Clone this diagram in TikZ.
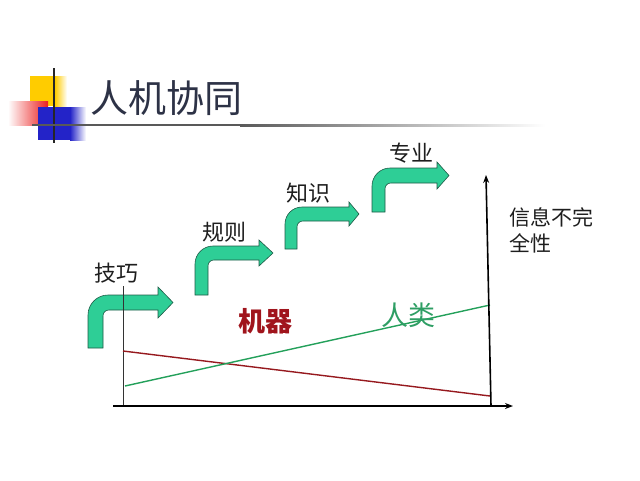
\documentclass[tikz,border=0pt]{standalone}
\usepackage{fontspec}
\newfontfamily\cjk{Noto Sans CJK SC}
\usetikzlibrary{arrows.meta}
\definecolor{arrfill}{RGB}{46,206,150}
\definecolor{arrline}{RGB}{30,90,70}
\definecolor{titlecol}{RGB}{45,50,70}
\definecolor{txtcol}{RGB}{30,30,30}
\definecolor{machred}{RGB}{160,20,28}
\definecolor{humgreen}{RGB}{46,158,100}
\definecolor{redline}{RGB}{150,25,30}
\definecolor{greenline}{RGB}{35,160,90}
\definecolor{decoyellow}{RGB}{255,204,0}
\definecolor{decored}{RGB}{235,30,30}
\definecolor{decoblue}{RGB}{35,35,200}
% #1 xL, #2 xR, #3 yBottom, #4 bandTop, #5 bandBottom, #6 headBase, #7 overhang, #8 tip, #9 outer radius
\newcommand{\bentarr}[9]{%
  \draw[arrshape] (#1,#3) -- (#1,#4+#9)
    .. controls (#1,#4+0.45*#9) and (#1+0.45*#9,#4) .. (#1+#9,#4)
    -- (#6,#4) -- (#6,#4-#7) -- (#8,{(#4+#5)/2}) -- (#6,#5+#7) -- (#6,#5)
    -- (#2+6,#5) .. controls (#2+2.5,#5) and (#2,#5+2.5) .. (#2,#5+6)
    -- (#2,#3) -- cycle;}
\begin{document}
\begin{tikzpicture}[x=1pt,y=-1pt,
  arrshape/.style={fill=arrfill,draw=arrline,line width=0.6pt,line join=miter},
  lbl/.style={inner sep=0pt,text=txtcol,font=\cjk\fontsize{22}{22}\selectfont},
  axis/.style={line width=1.6pt,black,-{Stealth[length=8pt,width=6pt]}}]
\useasboundingbox (0,0) rectangle (640,480);
% decoration
\fill[decoyellow] (30,76) rectangle (55,106);
\shade[left color=decoyellow,right color=white] (55,76) rectangle (67,106);
\shade[left color=white,right color=decored] (8,101) rectangle (48,125);
\fill[decoblue] (38,107) rectangle (70,140);
\shade[left color=decoblue,right color=white] (70,107) rectangle (86,140);
\draw[line width=1.5pt,black!85] (54,68) -- (54,143);
\fill[black!65] (32,124) rectangle (240,126.2);
\shade[left color=black!65,right color=white] (240,124) rectangle (545,126.2);
% title
\node[inner sep=0pt,text=titlecol,font=\cjk\fontsize{38}{38}\selectfont] (title) at (166,98) {人机协同};
% arrows
\bentarr{88}{103}{348}{295}{310}{158}{8}{173}{20}
\bentarr{195}{208}{295}{246}{260}{259}{6}{273}{18}
\bentarr{285}{297}{249}{207}{221}{349}{5}{359}{17}
\bentarr{372}{385}{212}{168}{183}{437}{6}{449}{18}
% labels
\node[lbl] (l1) at (116,273) {技巧};
\node[lbl] (l2) at (224,232) {规则};
\node[lbl] (l3) at (308,193) {知识};
\node[lbl] (l4) at (411,153) {专业};
\node[lbl,anchor=west,font=\cjk\fontsize{21}{26}\selectfont,align=left] (info) at (509,230) {信息不完\\全性};
% axes and lines
\coordinate (o) at (491,406);
\coordinate (ytop) at (486,175);
\coordinate (xl) at (113,406);
\coordinate (xr) at (513,406);
\coordinate (s1) at (123,286);
\coordinate (s2) at (123,406);
\draw[line width=0.7pt,black!80] (s1) -- (s2);
\coordinate (r1) at (123,351);
\coordinate (r2) at (490,396);
\coordinate (g1) at (125,386);
\coordinate (g2) at (490,305);
\draw[redline,line width=1.4pt] (r1) -- (r2);
\draw[greenline,line width=1.4pt] (g1) -- (g2);
\draw[axis] (xl) -- (xr);
\draw[axis] (o) -- (ytop);
\node[inner sep=0pt,text=machred,font=\cjk\bfseries\fontsize{27}{27}\selectfont] (mach) at (265,321) {机器};
\node[inner sep=0pt,text=humgreen,font=\cjk\fontsize{27}{27}\selectfont] (hum) at (408,315) {人类};
\end{tikzpicture}
\end{document}
